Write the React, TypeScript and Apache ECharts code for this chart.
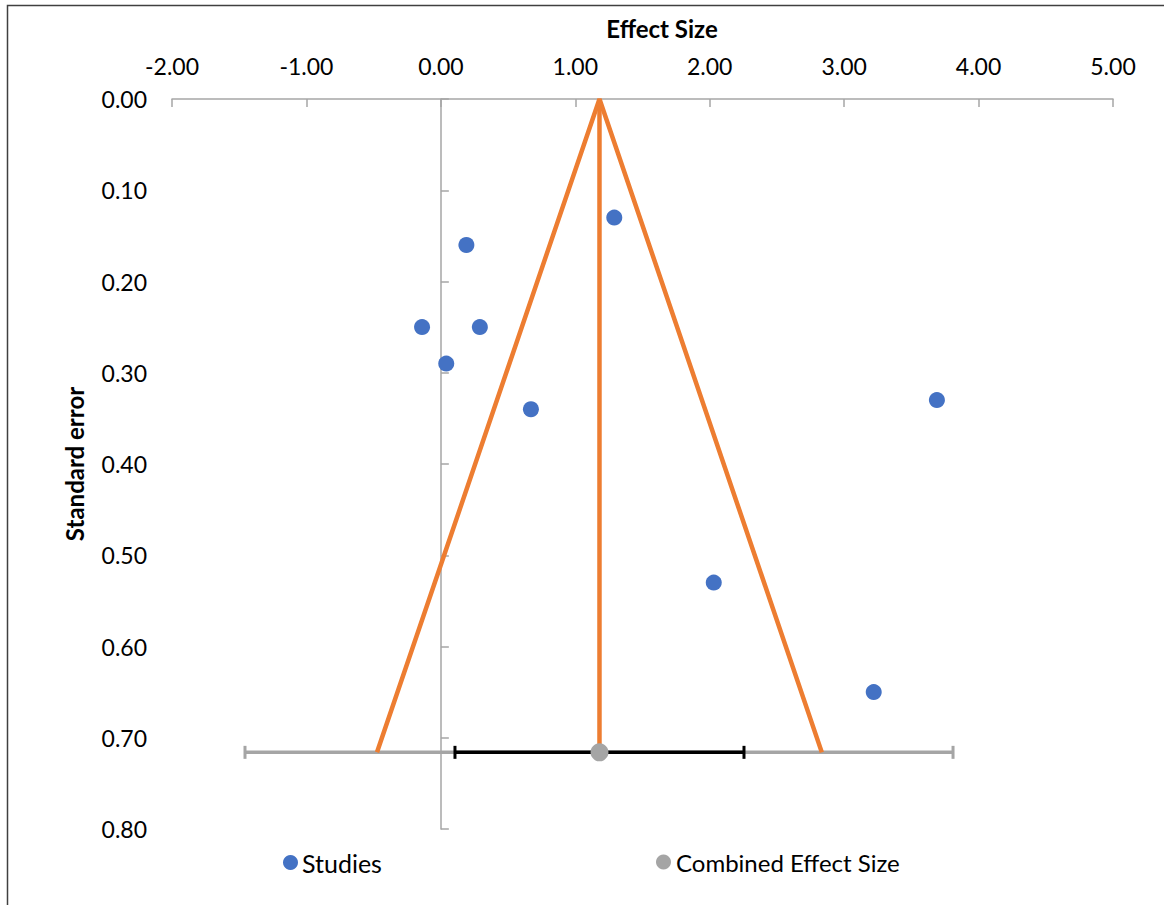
import React, { useEffect, useRef } from "react";
import * as echarts from "echarts";

// Studies: [effect size, standard error]
const studyEffect = [1.29, 0.19, -0.14, 0.29, 0.04, 0.67, 3.69, 2.03, 3.22];
const studySE = [0.13, 0.16, 0.25, 0.25, 0.29, 0.34, 0.33, 0.53, 0.65];

const combinedEffect = 1.18;
const combinedSE = 0.716;
const funnelLow = -0.475;
const funnelHigh = 2.834;
const ciOuter = [-1.457, 3.81];
const ciInner = [0.105, 2.255];

const xTicks = { min: -2, max: 5, interval: 1 };
const yTicks = { min: 0, max: 0.8, interval: 0.1 };

const FONT = "Lato";

export default function App() {
  const ref = useRef<HTMLDivElement>(null);
  useEffect(() => {
    if (!ref.current) return;
    const chart = echarts.init(ref.current, null, { renderer: "svg" });
    const studies = studyEffect.map((x, i) => [x, studySE[i]]);
    const capSym = "rect";
    chart.setOption({
      animation: false,
      backgroundColor: "#ffffff",
      textStyle: { fontFamily: FONT },
      grid: { left: 172, right: 51, top: 99, bottom: 76 },
      legend: [
        {
          data: ["Studies"],
          left: 278,
          top: 845,
          icon: "circle",
          itemWidth: 15,
          itemHeight: 15,
          textStyle: { fontFamily: FONT, fontSize: 25, color: "#000", padding: [0, 0, 0, -1] },
        },
        {
          data: ["Combined Effect Size"],
          left: 651,
          top: 845,
          icon: "circle",
          itemWidth: 15,
          itemHeight: 15,
          textStyle: { fontFamily: FONT, fontSize: 24, color: "#000", padding: [0, 0, 0, 0] },
        },
      ],
      graphic: [
        {
          type: "rect",
          shape: { x: 7.5, y: 5.5, width: 3000, height: 3000 },
          style: { fill: "none", stroke: "#404040", lineWidth: 1.5 },
          silent: true,
        },
        {
          type: "text",
          x: 662,
          y: 28,
          style: {
            text: "Effect Size",
            fontFamily: FONT,
            fontSize: 24,
            fontWeight: "bold",
            fill: "#000",
            align: "center",
            verticalAlign: "middle",
          },
        },
      ],
      xAxis: {
        type: "value",
        position: "top",
        min: xTicks.min,
        max: xTicks.max,
        interval: xTicks.interval,
        axisLine: { onZero: false, lineStyle: { color: "#A6A6A6", width: 1.5 } },
        axisTick: { inside: true, length: 8, lineStyle: { color: "#A6A6A6", width: 1.5 } },
        axisLabel: {
          margin: 22,
          fontFamily: FONT,
          fontSize: 23,
          color: "#000",
          formatter: (v: number) => v.toFixed(2),
        },
        splitLine: { show: false },
      },
      yAxis: [
        {
          type: "value",
          inverse: true,
          min: yTicks.min,
          max: yTicks.max,
          interval: yTicks.interval,
          name: "Standard error",
          nameLocation: "middle",
          nameGap: 86,
          nameRotate: 90,
          nameTextStyle: { fontFamily: FONT, fontSize: 24, fontWeight: "bold", color: "#000" },
          axisLine: { show: false },
          axisTick: { show: false },
          axisLabel: {
            margin: 25,
            fontFamily: FONT,
            fontSize: 23,
            color: "#000",
            formatter: (v: number) => v.toFixed(2),
          },
          splitLine: { show: false },
        },
        {
          type: "value",
          inverse: true,
          min: yTicks.min,
          max: yTicks.max,
          interval: yTicks.interval,
          position: "left",
          axisLine: { show: true, onZero: true, onZeroAxisIndex: 0, lineStyle: { color: "#A6A6A6", width: 1.5 } },
          axisTick: { show: true, inside: true, length: 8, lineStyle: { color: "#A6A6A6", width: 1.5 } },
          axisLabel: { show: false },
          splitLine: { show: false },
        },
      ],
      series: [
        {
          name: "CI outer",
          type: "line",
          data: [
            [ciOuter[0], combinedSE],
            [ciOuter[1], combinedSE],
          ],
          lineStyle: { color: "#A5A5A5", width: 3.5 },
          itemStyle: { color: "#A5A5A5" },
          symbol: capSym,
          symbolSize: [3, 13],
          showSymbol: true,
          z: 2,
        },
        {
          name: "CI inner",
          type: "line",
          data: [
            [ciInner[0], combinedSE],
            [ciInner[1], combinedSE],
          ],
          lineStyle: { color: "#000000", width: 3.5 },
          itemStyle: { color: "#000000" },
          symbol: capSym,
          symbolSize: [3, 13],
          showSymbol: true,
          z: 3,
        },
        {
          name: "Funnel",
          type: "line",
          data: [
            [funnelLow, combinedSE],
            [combinedEffect, 0],
            [funnelHigh, combinedSE],
          ],
          lineStyle: { color: "#ED7D31", width: 4.5 },
          symbol: "none",
          z: 4,
        },
        {
          name: "Center",
          type: "line",
          data: [
            [combinedEffect, 0],
            [combinedEffect, combinedSE],
          ],
          lineStyle: { color: "#ED7D31", width: 4.5 },
          symbol: "none",
          z: 4,
        },
        {
          name: "Studies",
          type: "scatter",
          data: studies,
          symbolSize: 16,
          itemStyle: { color: "#4472C4", opacity: 1 },
          z: 5,
        },
        {
          name: "Combined Effect Size",
          type: "scatter",
          data: [[combinedEffect, combinedSE]],
          symbolSize: 18,
          itemStyle: { color: "#A5A5A5", opacity: 1 },
          z: 6,
        },
      ],
    });
    return () => chart.dispose();
  }, []);
  return (
    <div
      ref={ref}
      style={{ position: "absolute", left: 0, top: 0, width: 1164, height: 905 }}
    />
  );
}
